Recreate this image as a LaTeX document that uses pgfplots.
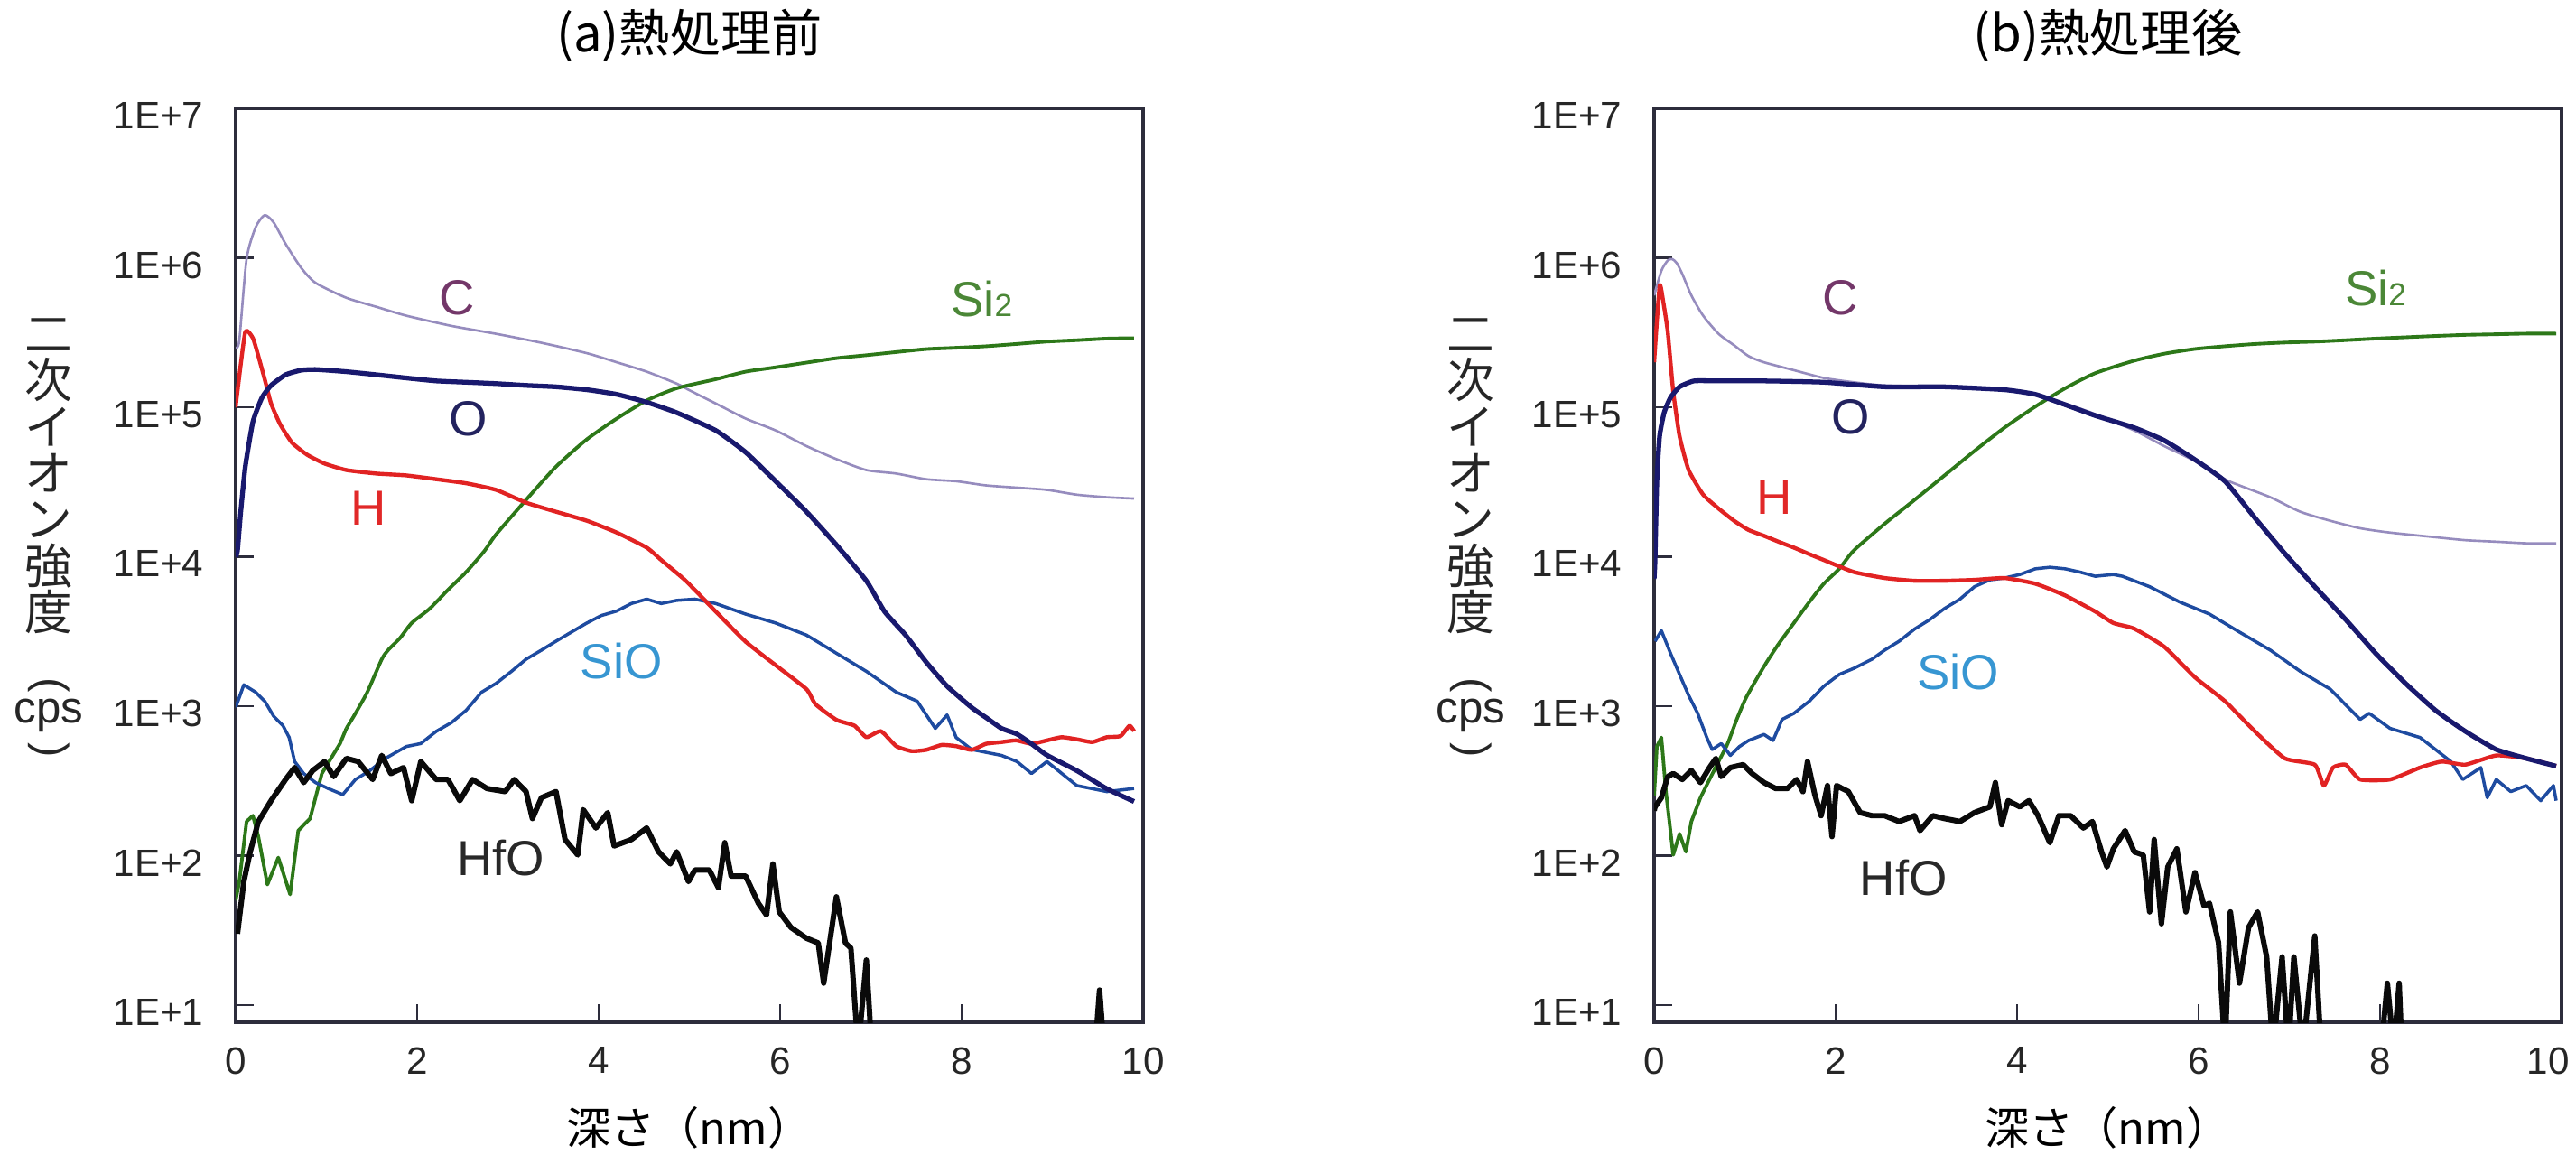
\documentclass[border=0pt]{standalone}
\usepackage{fontspec}
\setmainfont{Liberation Sans}
\newfontfamily\cjk{Noto Sans CJK JP}
\usepackage{pgfplots}
\pgfplotsset{compat=1.18}

\definecolor{axiscol}{RGB}{45,45,60}
\definecolor{cC}{RGB}{150,140,190}
\definecolor{cO}{RGB}{25,25,110}
\definecolor{cH}{RGB}{225,35,35}
\definecolor{cSi}{RGB}{45,120,25}
\definecolor{cSiO}{RGB}{30,75,160}
\definecolor{cHf}{RGB}{10,10,10}
\definecolor{lC}{RGB}{115,55,105}
\definecolor{lO}{RGB}{35,35,95}
\definecolor{lH}{RGB}{225,40,40}
\definecolor{lSi}{RGB}{75,135,55}
\definecolor{lSiO}{RGB}{55,150,210}
\definecolor{lHf}{RGB}{40,40,40}

\pgfplotsset{sims/.style={
  scale only axis, width=10.05cm, height=10.12cm,
  xmin=0, xmax=10, ymin=7.67, ymax=1e7,
  xtick={0,2,4,6,8,10}, xticklabels={0,2,4,6,8,10},
  ytick={10,100,1000,10000,100000,1000000,10000000},
  yticklabels={1E+1,1E+2,1E+3,1E+4,1E+5,1E+6,1E+7},
  yminorticks=false, xminorticks=false,
  tick align=inside, major tick length=0.2cm,
  xtick pos=bottom, ytick pos=left,
  every tick/.style={draw=axiscol, line width=0.8pt},
  axis line style={draw=axiscol, line width=0.9pt},
  tick label style={font=\fontsize{12}{14}\selectfont, text=black!85, inner sep=0pt},
  xticklabel style={anchor=north, yshift=-0.27cm},
  yticklabel style={anchor=east, xshift=-0.35cm, yshift=-0.08cm},
  title style={font=\cjk\fontsize{16}{18}\selectfont, at={(axis description cs:0.5,1)}, anchor=center, yshift=0.6cm},
  every axis x label/.style={font=\cjk\fontsize{14}{16}\selectfont, at={(axis description cs:0.5,0)}, anchor=center, yshift=-1.165cm},
  xlabel={深さ（nm）},
  every axis plot/.append style={line join=round, mark=none},
  clip=true,
}}
\tikzset{lab/.style={font=\fontsize{15.5}{17}\selectfont, inner sep=0pt},
  ylabcjk/.style={font=\cjk\fontsize{15}{14.6}\selectfont, align=center, inner sep=0pt, anchor=north, text=black!85},
  ylablat/.style={font=\fontsize{14}{14}\selectfont, inner sep=0pt, text=black!85}}

\begin{document}
\begin{tikzpicture}
\useasboundingbox (0,0) rectangle (28.53cm,12.78cm);

% ---------------- (a) before annealing ----------------
\begin{semilogyaxis}[sims, at={(2.61cm,1.46cm)}, anchor=south west, title={(a)熱処理前}]
% C
\addplot[cC, line width=0.75pt, smooth, tension=0.4] coordinates {
(0,2.5e5)(0.04,2.8e5)(0.12,9.8e5)(0.22,1.6e6)(0.32,1.93e6)(0.42,1.72e6)(0.55,1.24e6)(0.72,8.6e5)(0.88,6.8e5)(1.22,5.4e5)(1.55,4.7e5)(1.88,4.1e5)(2.38,3.5e5)(2.87,3.1e5)(3.37,2.7e5)(3.87,2.3e5)(4.20,2.0e5)(4.53,1.73e5)(4.86,1.44e5)(5.0,1.3e5)(5.29,1.06e5)(5.62,8.4e4)(5.95,7.0e4)(6.29,5.5e4)(6.62,4.5e4)(6.95,3.8e4)(7.28,3.6e4)(7.61,3.3e4)(7.94,3.2e4)(8.27,3.0e4)(8.60,2.9e4)(8.94,2.8e4)(9.27,2.6e4)(9.60,2.5e4)(9.90,2.45e4)};
% Si2
\addplot[cSi, line width=1.1pt] coordinates {
(0,50)(0.04,67)(0.12,169)(0.19,185)(0.25,134)(0.35,64)(0.47,97)(0.60,55)(0.69,147)(0.82,177)(0.88,244)(0.95,354)(1.05,447)(1.15,562)(1.22,710)};
\addplot[cSi, line width=1.1pt, smooth, tension=0.4] coordinates {
(1.22,710)(1.32,895)(1.45,1240)(1.61,2060)(1.68,2370)(1.81,2850)(1.94,3600)(2.14,4500)(2.34,6000)(2.54,7900)(2.74,1.09e4)(2.87,1.41e4)(3.20,2.4e4)(3.53,4.0e4)(3.87,6.1e4)(4.20,8.4e4)(4.53,1.11e5)(4.86,1.34e5)(5.29,1.54e5)(5.62,1.73e5)(5.95,1.85e5)(6.29,1.99e5)(6.62,2.13e5)(6.95,2.23e5)(7.28,2.34e5)(7.61,2.45e5)(7.94,2.5e5)(8.27,2.56e5)(8.60,2.65e5)(8.94,2.75e5)(9.27,2.81e5)(9.60,2.88e5)(9.90,2.9e5)};
% SiO
\addplot[cSiO, line width=1.0pt] coordinates {
(0,980)(0.09,1390)(0.22,1240)(0.32,1080)(0.42,855)(0.52,743)(0.59,617)(0.65,426)(0.75,354)(0.88,308)(1.02,281)(1.18,256)(1.32,323)(1.48,371)(1.65,447)(1.88,537)(2.04,562)(2.21,678)(2.38,778)(2.54,938)(2.71,1240)(2.87,1420)(3.04,1710)(3.20,2060)(3.37,2370)(3.53,2720)(3.70,3130)(3.87,3600)(4.03,4040)(4.20,4330)(4.36,4860)(4.53,5200)(4.69,4860)(4.86,5100)(5.06,5200)(5.29,4860)(5.62,4130)(5.95,3600)(6.29,2990)(6.62,2260)(6.95,1710)(7.28,1240)(7.51,1080)(7.71,710)(7.84,873)(7.94,617)(8.11,513)(8.44,468)(8.61,426)(8.77,354)(8.94,426)(9.27,294)(9.60,268)(9.90,281)};
% H
\addplot[cH, line width=1.25pt, smooth, tension=0.3] coordinates {
(0,1.0e5)(0.02,1.28e5)(0.106,3.2e5)(0.19,2.9e5)(0.25,2.2e5)(0.32,1.54e5)(0.39,1.06e5)(0.49,7.7e4)(0.62,5.8e4)(0.79,4.8e4)(0.98,4.2e4)(1.22,3.8e4)(1.55,3.6e4)(1.88,3.5e4)(2.21,3.3e4)(2.54,3.1e4)(2.87,2.8e4)(3.20,2.3e4)(3.53,2.0e4)(3.87,1.74e4)(4.20,1.45e4)(4.53,1.15e4)(4.69,9.5e3)(4.96,6.9e3)(5.29,4.3e3)(5.62,2.7e3)(5.95,1.88e3)(6.29,1.3e3)(6.39,1.03e3)(6.62,810)(6.82,740)(6.95,620)(7.11,680)(7.28,540)(7.45,500)(7.61,510)(7.78,550)(7.94,540)(8.11,510)(8.27,560)(8.44,575)(8.60,590)(8.77,560)(8.94,590)(9.10,620)(9.27,600)(9.44,575)(9.60,620)(9.75,630)(9.85,740)(9.90,680)};
% O
\addplot[cO, line width=1.5pt, smooth, tension=0.3] coordinates {
(0,1.0e4)(0.02,1.1e4)(0.056,2.0e4)(0.106,4.0e4)(0.19,8.0e4)(0.29,1.16e5)(0.39,1.4e5)(0.55,1.65e5)(0.72,1.77e5)(0.88,1.79e5)(1.22,1.73e5)(1.55,1.65e5)(1.88,1.57e5)(2.21,1.5e5)(2.54,1.47e5)(2.87,1.44e5)(3.20,1.4e5)(3.53,1.37e5)(3.87,1.31e5)(4.20,1.22e5)(4.53,1.08e5)(4.86,9.2e4)(5.29,7.0e4)(5.62,5.0e4)(5.95,3.2e4)(6.29,2.0e4)(6.62,1.2e4)(6.95,6.9e3)(7.15,4.3e3)(7.38,3.0e3)(7.61,1.97e3)(7.84,1.36e3)(8.11,980)(8.28,830)(8.44,710)(8.61,650)(8.77,560)(8.94,470)(9.27,370)(9.60,280)(9.90,230)};
% HfO
\addplot[cHf, line width=1.7pt] coordinates {
(0.02,30)(0.09,67)(0.16,106)(0.25,169)(0.39,233)(0.55,323)(0.65,388)(0.75,308)(0.85,371)(0.98,426)(1.08,338)(1.22,447)(1.35,426)(1.51,323)(1.61,468)(1.71,354)(1.85,388)(1.94,233)(2.04,426)(2.21,323)(2.34,323)(2.47,233)(2.61,323)(2.77,281)(2.97,268)(3.07,323)(3.20,268)(3.27,177)(3.37,244)(3.53,268)(3.63,128)(3.77,101)(3.83,203)(3.97,153)(4.10,194)(4.17,116)(4.36,128)(4.53,153)(4.66,106)(4.79,88)(4.86,106)(4.99,67)(5.06,80)(5.22,80)(5.32,61)(5.39,122)(5.46,73)(5.62,73)(5.76,48)(5.85,40)(5.92,88)(5.99,42)(6.12,33)(6.29,28)(6.42,26)(6.48,14)(6.62,53)(6.72,26)(6.78,24)(6.86,5)(6.95,20)(7.01,5)(9.47,5)(9.52,12.6)(9.57,5)(10,5)};
% labels
\node[lab, text=lC] at (axis cs:2.44,5.4e5) {C};
\node[lab, text=lO] at (axis cs:2.56,8.4e4) {O};
\node[lab, text=lH] at (axis cs:1.46,2.1e4) {H};
\node[lab, text=lSi] at (axis cs:8.22,5.3e5) {Si{\fontsize{10}{10}\selectfont 2}};
\node[lab, text=lSiO] at (axis cs:4.25,2.0e3) {SiO};
\node[lab, text=lHf] at (axis cs:2.92,97) {HfO};
\end{semilogyaxis}

% ---------------- (b) after annealing ----------------
\begin{semilogyaxis}[sims, at={(18.32cm,1.46cm)}, anchor=south west, title={(b)熱処理後},
  xticklabels={0,2,4,6,8,{\hspace*{-0.3cm}10}}]
% C
\addplot[cC, line width=0.75pt, smooth, tension=0.4] coordinates {
(0,5.6e5)(0.08,8.2e5)(0.15,9.6e5)(0.20,9.8e5)(0.25,9.2e5)(0.31,7.8e5)(0.41,5.6e5)(0.54,4.1e5)(0.71,3.1e5)(0.88,2.6e5)(1.04,2.2e5)(1.21,2.0e5)(1.54,1.77e5)(1.87,1.57e5)(2.20,1.47e5)(2.54,1.4e5)(3.20,1.37e5)(3.86,1.31e5)(4.20,1.22e5)(4.53,1.06e5)(4.86,9.0e4)(5.29,7.0e4)(5.62,5.5e4)(5.95,4.4e4)(6.29,3.3e4)(6.45,3.0e4)(6.79,2.5e4)(7.12,2.0e4)(7.45,1.74e4)(7.78,1.55e4)(8.11,1.45e4)(8.61,1.35e4)(8.94,1.29e4)(9.28,1.26e4)(9.61,1.23e4)(9.94,1.23e4)};
% Si2
\addplot[cSi, line width=1.1pt] coordinates {
(0,251)(0.03,537)(0.08,617)(0.13,268)(0.21,101)(0.28,140)(0.35,106)(0.41,169)(0.51,244)};
\addplot[cSi, line width=1.1pt, smooth, tension=0.4] coordinates {
(0.51,244)(0.61,323)(0.71,426)(0.81,562)(0.91,815)(1.01,1130)(1.14,1560)(1.24,1970)(1.37,2600)(1.54,3600)(1.71,4980)(1.87,6600)(2.04,8300)(2.20,1.1e4)(2.54,1.66e4)(2.87,2.4e4)(3.20,3.5e4)(3.53,5.1e4)(3.86,7.3e4)(4.20,1.01e5)(4.53,1.34e5)(4.86,1.69e5)(5.29,2.05e5)(5.62,2.28e5)(5.95,2.45e5)(6.29,2.56e5)(6.62,2.65e5)(6.95,2.71e5)(7.29,2.75e5)(7.62,2.81e5)(7.95,2.88e5)(8.28,2.94e5)(8.61,3.0e5)(8.94,3.05e5)(9.28,3.08e5)(9.61,3.11e5)(9.94,3.11e5)};
% SiO
\addplot[cSiO, line width=1.0pt] coordinates {
(0.01,2720)(0.08,3200)(0.18,2260)(0.28,1630)(0.38,1180)(0.48,895)(0.58,617)(0.64,513)(0.74,562)(0.84,468)(0.94,537)(1.04,589)(1.21,647)(1.31,589)(1.41,815)(1.54,895)(1.71,1080)(1.87,1360)(2.04,1630)(2.20,1790)(2.40,2060)(2.54,2370)(2.70,2720)(2.87,3280)(3.03,3770)(3.20,4500)(3.37,5200)(3.53,6300)(3.70,7000)(3.86,7200)(4.03,7600)(4.20,8300)(4.36,8500)(4.53,8300)(4.69,7900)(4.86,7400)(5.06,7600)(5.16,7400)(5.46,6300)(5.79,4980)(6.12,4130)(6.45,3130)(6.79,2370)(7.12,1710)(7.45,1300)(7.78,815)(7.88,895)(8.11,710)(8.44,617)(8.61,513)(8.78,426)(8.91,323)(9.11,388)(9.18,244)(9.28,323)(9.44,268)(9.61,294)(9.77,233)(9.91,294)(9.94,233)};
% H
\addplot[cH, line width=1.25pt, smooth, tension=0.3] coordinates {
(0,2.0e5)(0.06,6.5e5)(0.10,5.1e5)(0.15,3.2e5)(0.21,1.28e5)(0.28,6.4e4)(0.38,3.8e4)(0.54,2.6e4)(0.71,2.1e4)(0.88,1.74e4)(1.04,1.51e4)(1.21,1.38e4)(1.37,1.26e4)(1.54,1.15e4)(1.71,1.04e4)(1.87,9.5e3)(2.20,7.9e3)(2.54,7.2e3)(2.87,6.9e3)(3.20,6.9e3)(3.53,7.0e3)(3.86,7.2e3)(4.20,6.6e3)(4.53,5.5e3)(4.86,4.3e3)(5.06,3.6e3)(5.29,3.3e3)(5.62,2.5e3)(5.96,1.56e3)(6.29,1.08e3)(6.62,678)(6.95,447)(7.28,406)(7.38,294)(7.48,388)(7.62,406)(7.78,323)(8.11,323)(8.44,388)(8.68,426)(8.94,406)(9.28,468)(9.61,447)(9.94,397)};
% O
\addplot[cO, line width=1.5pt, smooth, tension=0.3] coordinates {
(0,7.1e3)(0.01,9.5e3)(0.03,3.2e4)(0.06,6.4e4)(0.11,9.2e4)(0.18,1.16e5)(0.28,1.37e5)(0.44,1.5e5)(0.71,1.5e5)(1.21,1.5e5)(1.87,1.47e5)(2.54,1.37e5)(3.20,1.37e5)(3.86,1.31e5)(4.20,1.22e5)(4.53,1.04e5)(4.86,8.8e4)(5.29,7.3e4)(5.62,6.0e4)(5.95,4.5e4)(6.29,3.2e4)(6.62,1.82e4)(6.95,1.05e4)(7.28,6.3e3)(7.62,3.8e3)(7.95,2.26e3)(8.28,1.42e3)(8.61,938)(8.94,678)(9.28,513)(9.61,447)(9.94,397)};
% HfO
\addplot[cHf, line width=1.7pt] coordinates {
(0,200)(0.01,212)(0.08,244)(0.15,338)(0.21,354)(0.31,323)(0.41,371)(0.51,308)(0.61,388)(0.68,447)(0.74,338)(0.84,388)(0.98,406)(1.08,354)(1.21,308)(1.34,281)(1.47,281)(1.57,323)(1.64,268)(1.69,426)(1.77,256)(1.84,185)(1.91,294)(1.96,134)(2.01,294)(2.14,268)(2.27,194)(2.40,185)(2.54,185)(2.70,169)(2.87,185)(2.93,147)(3.07,185)(3.20,177)(3.37,169)(3.53,194)(3.70,212)(3.76,308)(3.83,161)(3.90,233)(4.03,212)(4.13,233)(4.23,185)(4.36,122)(4.46,185)(4.59,185)(4.73,153)(4.83,169)(4.93,106)(4.99,84)(5.06,111)(5.19,147)(5.29,106)(5.39,101)(5.46,42)(5.51,128)(5.59,35)(5.66,84)(5.76,111)(5.86,42)(5.96,77)(6.06,46)(6.12,48)(6.22,26)(6.29,5)(6.35,42)(6.45,14)(6.55,33)(6.65,42)(6.75,21)(6.82,5)(6.92,21)(6.99,5)(7.05,21)(7.15,5)(7.28,29)(7.35,5)(8.01,5)(8.08,14)(8.15,5)(8.21,14)(8.24,5)(10,5)};
% labels
\node[lab, text=lC] at (axis cs:2.05,5.4e5) {C};
\node[lab, text=lO] at (axis cs:2.17,8.6e4) {O};
\node[lab, text=lH] at (axis cs:1.32,2.5e4) {H};
\node[lab, text=lSi] at (axis cs:7.95,6.3e5) {Si{\fontsize{10}{10}\selectfont 2}};
\node[lab, text=lSiO] at (axis cs:3.35,1.7e3) {SiO};
\node[lab, text=lHf] at (axis cs:2.75,71) {HfO};
\end{semilogyaxis}

% ---------------- vertical y-axis titles ----------------
\foreach \xx in {0.54cm,16.29cm} {
  \node[ylabcjk] at (\xx,9.26cm) {二\\次\\イ\\オ\\ン\\強\\度};
  \node[ylablat, rotate=-90] at (\xx,5.19cm) {(};
  \node[ylablat] at (\xx,4.86cm) {cps};
  \node[ylablat, rotate=-90] at (\xx,4.47cm) {)};
}
\end{tikzpicture}
\end{document}
